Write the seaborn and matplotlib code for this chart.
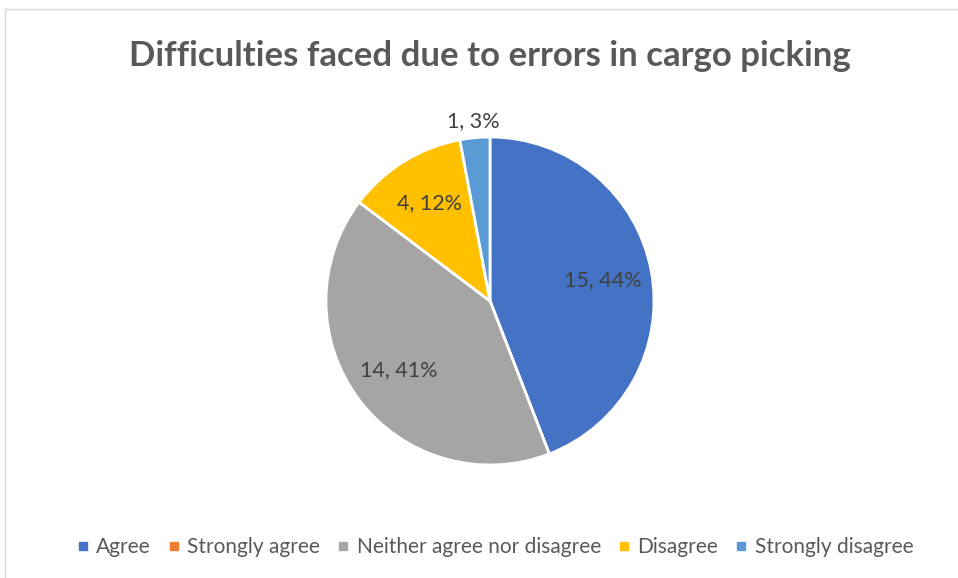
import matplotlib
matplotlib.use("Agg")
import matplotlib.pyplot as plt
from matplotlib.lines import Line2D
from matplotlib.patches import Rectangle
import numpy as np
import pandas as pd
import seaborn as sns

# Survey responses
categories = ["Agree", "Strongly agree", "Neither agree nor disagree", "Disagree", "Strongly disagree"]
counts = [15, 0, 14, 4, 1]
colors = ["#4472C4", "#ED7D31", "#A5A5A5", "#FFC000", "#5B9BD5"]
title = "Difficulties faced due to errors in cargo picking"

df = pd.DataFrame({"category": categories, "count": counts, "color": colors})

sns.set_theme(style="white")
plt.rcParams["font.family"] = ["Lato", "DejaVu Sans"]

W, H = 958, 578
fig = plt.figure(figsize=(W / 100, H / 100), dpi=100)
fig.patch.set_facecolor("white")

# chart-area frame
fig.patches.append(Rectangle((5 / W, -0.01), 1.0, 1 - 9 / H + 0.01, transform=fig.transFigure,
                             fill=False, edgecolor="#D9D9D9", linewidth=1.0))

cx, cy, R = 490, 301, 164
ax = fig.add_axes([(cx - R) / W, (H - cy - R) / H, 2 * R / W, 2 * R / H])
wedges, _ = ax.pie(df["count"], colors=df["color"], startangle=90, counterclock=False,
                   radius=1.0, wedgeprops=dict(edgecolor="white", linewidth=2.0))
ax.set_xlim(-1, 1)
ax.set_ylim(-1, 1)
ax.set_aspect("equal")
ax.axis("off")

total = df["count"].sum()
for w, n in zip(wedges, df["count"]):
    if n == 0:
        continue
    pct = 100 * n / total
    mid = np.deg2rad((w.theta1 + w.theta2) / 2)
    d = 1.1 if pct < 5 else 0.7
    ax.text(d * np.cos(mid), d * np.sin(mid), f"{n}, {pct:.0f}%", ha="center", va="center",
            fontsize=15.5, color="#404040")

fig.text(cx / W, 1 - 56 / H, title, ha="center", va="center", fontsize=25,
         fontweight="bold", color="#595959")

handles = [Line2D([0], [0], marker="s", linestyle="", markersize=6,
                  markerfacecolor=c, markeredgecolor=c) for c in df["color"]]
fig.legend(handles, df["category"], loc="center", bbox_to_anchor=(495 / W, 1 - 547 / H),
           ncol=5, frameon=False, fontsize=15, labelcolor="#595959",
           handlelength=0.6, handletextpad=0.35, columnspacing=0.8)

fig.savefig("out.png", dpi=100)
